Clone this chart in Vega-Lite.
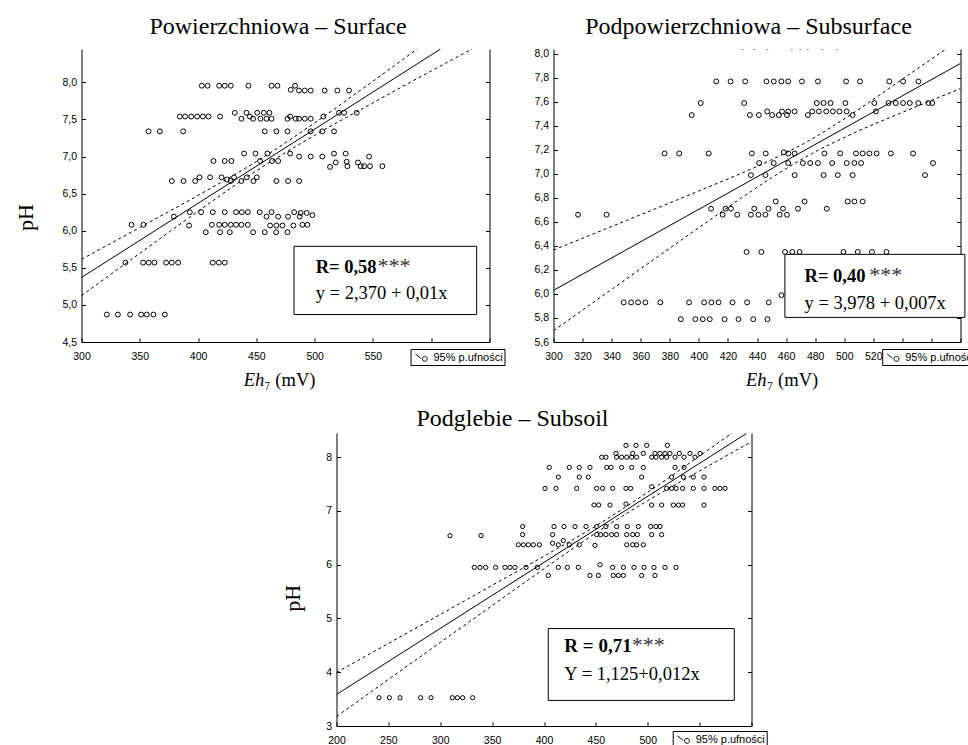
{
"$schema": "https://vega.github.io/schema/vega-lite/v6.json",
"background": "white",
"padding": {"left": 13.5, "top": 14, "right": 0, "bottom": 0},
"config": {
 "view": {"stroke": null},
 "axis": {"grid": false, "domainColor": "black", "domainWidth": 1, "tickColor": "black", "tickWidth": 1, "labelColor": "black", "labelFont": "Liberation Sans", "labelFontSize": 10.5, "titleColor": "black", "titleFont": "Liberation Serif", "titleFontWeight": "normal"},
 "title": {"font": "Liberation Serif", "fontSize": 24, "fontWeight": "normal", "color": "black", "anchor": "middle", "baseline": "alphabetic"},
 "legend": {"title": null, "symbolSize": 170, "symbolOffset": 3, "symbolStrokeWidth": 1, "symbolStrokeColor": "black", "symbolFillColor": "transparent", "labelFont": "Liberation Sans", "labelFontSize": 11, "labelColor": "black", "labelOffset": 4, "padding": 1, "strokeColor": "black", "fillColor": "white", "cornerRadius": 0, "zindex": 1, "symbolType": "M-1,-0.55L-0.2,0.1M0.8,0.2A0.38,0.38 0 1,1 0.04,0.2A0.38,0.38 0 1,1 0.8,0.2"}
},
"datasets": {
 "surface": [
{"x":321.7,"ph":4.87},{"x":331.2,"ph":4.87},{"x":341.7,"ph":4.87},{"x":351.2,"ph":4.87},{"x":356,"ph":4.87},{"x":361.7,"ph":4.87},{"x":371.5,"ph":4.87},
{"x":337.7,"ph":5.57},{"x":352.9,"ph":5.57},{"x":357.7,"ph":5.57},{"x":362.6,"ph":5.57},{"x":372.6,"ph":5.57},{"x":377.5,"ph":5.57},{"x":382.9,"ph":5.57},{"x":412.6,"ph":5.57},{"x":417.8,"ph":5.57},{"x":422.9,"ph":5.57},
{"x":406.6,"ph":5.98},{"x":418.9,"ph":5.98},{"x":427.2,"ph":5.98},{"x":447.2,"ph":5.98},{"x":457.2,"ph":5.98},{"x":467,"ph":5.98},{"x":476.7,"ph":5.98},
{"x":342.9,"ph":6.08},{"x":353.2,"ph":6.08},{"x":392.3,"ph":6.07},{"x":411.8,"ph":6.08},{"x":418.1,"ph":6.08},{"x":422.9,"ph":6.08},{"x":428.1,"ph":6.08},{"x":432.6,"ph":6.08},{"x":437.2,"ph":6.08},{"x":442.7,"ph":6.08},{"x":461.8,"ph":6.07},{"x":467.2,"ph":6.07},{"x":472.4,"ph":6.07},{"x":481.8,"ph":6.07},{"x":489.5,"ph":6.08},{"x":493.8,"ph":6.08},
{"x":379.2,"ph":6.19},{"x":458.7,"ph":6.19},{"x":468.7,"ph":6.19},{"x":477.2,"ph":6.19},{"x":487.2,"ph":6.19},
{"x":392.9,"ph":6.25},{"x":402.6,"ph":6.25},{"x":412.6,"ph":6.25},{"x":422.9,"ph":6.25},{"x":432.6,"ph":6.25},{"x":437.5,"ph":6.25},{"x":442.7,"ph":6.25},{"x":452.9,"ph":6.25},{"x":463,"ph":6.25},{"x":482.4,"ph":6.25},{"x":488,"ph":6.24},{"x":493.2,"ph":6.24},{"x":498.1,"ph":6.21},
{"x":377.5,"ph":6.67},{"x":387.5,"ph":6.67},{"x":397.5,"ph":6.67},{"x":428.1,"ph":6.67},{"x":437.2,"ph":6.67},{"x":447.5,"ph":6.67},{"x":467.2,"ph":6.67},{"x":477.2,"ph":6.67},{"x":486.7,"ph":6.67},
{"x":401.2,"ph":6.72},{"x":410.3,"ph":6.72},{"x":420.1,"ph":6.72},{"x":424.6,"ph":6.69},{"x":430.9,"ph":6.72},{"x":441.8,"ph":6.72},{"x":450.4,"ph":6.72},
{"x":413.2,"ph":6.94},{"x":422.9,"ph":6.94},{"x":428.6,"ph":6.94},{"x":453.2,"ph":6.94},{"x":463.5,"ph":6.94},{"x":468.7,"ph":6.94},
{"x":439.5,"ph":7.04},{"x":449.2,"ph":7.04},{"x":459.5,"ph":7.04},{"x":479,"ph":7.04},{"x":516.6,"ph":7.04},{"x":526.6,"ph":7.04},
{"x":486.7,"ph":7.0},{"x":496.6,"ph":7.0},{"x":506.6,"ph":7.0},{"x":546.7,"ph":7.0},
{"x":518.1,"ph":6.92},{"x":537.2,"ph":6.92},{"x":527.5,"ph":6.93},{"x":513.2,"ph":6.86},{"x":528.1,"ph":6.87},{"x":539.5,"ph":6.87},{"x":542.4,"ph":6.87},{"x":547.5,"ph":6.87},{"x":558.1,"ph":6.87},
{"x":357.5,"ph":7.34},{"x":367.2,"ph":7.34},{"x":387.2,"ph":7.34},{"x":457.2,"ph":7.34},{"x":467.2,"ph":7.34},{"x":476.7,"ph":7.34},{"x":496.6,"ph":7.34},{"x":506.6,"ph":7.34},{"x":516.6,"ph":7.34},
{"x":384.3,"ph":7.54},{"x":388.9,"ph":7.54},{"x":394.1,"ph":7.54},{"x":399.2,"ph":7.54},{"x":404.1,"ph":7.54},{"x":408.9,"ph":7.54},{"x":418.9,"ph":7.54},{"x":444.4,"ph":7.54},{"x":479,"ph":7.54},{"x":507.5,"ph":7.54},
{"x":431.5,"ph":7.59},{"x":441.5,"ph":7.59},{"x":450.7,"ph":7.59},{"x":456.4,"ph":7.59},{"x":461.2,"ph":7.59},{"x":520.9,"ph":7.59},{"x":525.2,"ph":7.59},{"x":536.1,"ph":7.59},
{"x":437.2,"ph":7.51},{"x":447.2,"ph":7.51},{"x":453.5,"ph":7.51},{"x":458.7,"ph":7.51},{"x":463,"ph":7.51},{"x":476.7,"ph":7.51},{"x":483.8,"ph":7.51},{"x":486.6,"ph":7.51},{"x":491.5,"ph":7.51},{"x":496.6,"ph":7.51},
{"x":403.2,"ph":7.955},{"x":408.1,"ph":7.955},{"x":418.1,"ph":7.955},{"x":422.9,"ph":7.955},{"x":428.1,"ph":7.955},{"x":443.2,"ph":7.955},{"x":463,"ph":7.955},{"x":468.1,"ph":7.955},{"x":483.2,"ph":7.955},{"x":479.5,"ph":7.9},
{"x":486.6,"ph":7.89},{"x":491.5,"ph":7.89},{"x":496.6,"ph":7.89},{"x":508.6,"ph":7.89},{"x":519.5,"ph":7.89},{"x":529.5,"ph":7.89}
 ],
 "subsurface": [
{"x":316.9,"ph":6.66},{"x":336.5,"ph":6.66},
{"x":376.4,"ph":7.17},{"x":386.5,"ph":7.17},{"x":406.8,"ph":7.17},{"x":436.5,"ph":7.17},{"x":446,"ph":7.17},{"x":458.4,"ph":7.18},{"x":461.5,"ph":7.17},{"x":465.9,"ph":7.17},{"x":486.4,"ph":7.17},{"x":497.2,"ph":7.17},{"x":508.1,"ph":7.17},{"x":512.7,"ph":7.17},{"x":517.3,"ph":7.17},{"x":522.3,"ph":7.17},{"x":532.1,"ph":7.17},{"x":547.4,"ph":7.17},
{"x":395.1,"ph":7.49},{"x":435.1,"ph":7.49},{"x":441.3,"ph":7.49},{"x":450.4,"ph":7.49},{"x":455,"ph":7.49},{"x":460.6,"ph":7.49},{"x":475,"ph":7.49},{"x":505.8,"ph":7.49},
{"x":447,"ph":7.52},{"x":457.2,"ph":7.52},{"x":461.5,"ph":7.52},{"x":465.9,"ph":7.52},{"x":478,"ph":7.52},{"x":482.6,"ph":7.52},{"x":487.6,"ph":7.52},{"x":492.2,"ph":7.52},{"x":496.7,"ph":7.52},{"x":501.7,"ph":7.52},{"x":521.8,"ph":7.52},
{"x":401.3,"ph":7.59},{"x":431.2,"ph":7.59},{"x":481.2,"ph":7.59},{"x":485.8,"ph":7.59},{"x":490.6,"ph":7.59},{"x":500.8,"ph":7.59},{"x":520.7,"ph":7.59},{"x":530.5,"ph":7.59},{"x":535.5,"ph":7.59},{"x":540.5,"ph":7.59},{"x":545.1,"ph":7.59},{"x":551,"ph":7.59},{"x":557.9,"ph":7.59},{"x":560.6,"ph":7.59},
{"x":412,"ph":7.77},{"x":421.8,"ph":7.77},{"x":431.9,"ph":7.77},{"x":446.5,"ph":7.77},{"x":451.5,"ph":7.77},{"x":456.8,"ph":7.77},{"x":461.5,"ph":7.77},{"x":470.9,"ph":7.77},{"x":481.9,"ph":7.77},{"x":501.3,"ph":7.77},{"x":510.9,"ph":7.77},{"x":531,"ph":7.77},{"x":540.5,"ph":7.77},{"x":551,"ph":7.77},
{"x":441.5,"ph":7.09},{"x":451.5,"ph":7.09},{"x":461.5,"ph":7.09},{"x":471.6,"ph":7.09},{"x":476.6,"ph":7.09},{"x":481.9,"ph":7.09},{"x":491.7,"ph":7.09},{"x":501.7,"ph":7.09},{"x":507,"ph":7.09},{"x":511.6,"ph":7.09},{"x":561.1,"ph":7.09},
{"x":435.8,"ph":6.99},{"x":445.8,"ph":6.99},{"x":465.9,"ph":6.99},{"x":485.8,"ph":6.99},{"x":495.6,"ph":6.99},{"x":505.8,"ph":6.99},{"x":555.6,"ph":6.99},
{"x":452.9,"ph":6.77},{"x":472.7,"ph":6.77},{"x":502.4,"ph":6.77},{"x":507,"ph":6.77},{"x":512.7,"ph":6.77},
{"x":408.4,"ph":6.71},{"x":418.4,"ph":6.71},{"x":422.1,"ph":6.71},{"x":438.1,"ph":6.71},{"x":447.9,"ph":6.71},{"x":457.9,"ph":6.71},{"x":468.2,"ph":6.71},{"x":488,"ph":6.71},
{"x":416.4,"ph":6.66},{"x":426.4,"ph":6.66},{"x":435.8,"ph":6.66},{"x":441,"ph":6.66},{"x":445.8,"ph":6.66},{"x":455.6,"ph":6.66},{"x":460.6,"ph":6.66},
{"x":432.8,"ph":6.35},{"x":443,"ph":6.35},{"x":459.3,"ph":6.35},{"x":464.3,"ph":6.35},{"x":469.3,"ph":6.35},{"x":499.5,"ph":6.35},{"x":509.3,"ph":6.35},{"x":519.1,"ph":6.35},{"x":529.1,"ph":6.35},
{"x":456.8,"ph":5.99},
{"x":348.3,"ph":5.93},{"x":353.4,"ph":5.93},{"x":358.2,"ph":5.93},{"x":363.2,"ph":5.93},{"x":373.5,"ph":5.93},{"x":393.3,"ph":5.93},{"x":403.6,"ph":5.93},{"x":408.6,"ph":5.93},{"x":413.6,"ph":5.93},{"x":423.2,"ph":5.93},{"x":433.2,"ph":5.93},{"x":448.1,"ph":5.93},
{"x":387.6,"ph":5.79},{"x":397.6,"ph":5.79},{"x":402.7,"ph":5.79},{"x":407.5,"ph":5.79},{"x":417.7,"ph":5.79},{"x":427.3,"ph":5.79},{"x":437.4,"ph":5.79},{"x":447.2,"ph":5.79},
{"x":430,"ph":8.06},{"x":438,"ph":8.06},{"x":447,"ph":8.06},{"x":464,"ph":8.06},{"x":470,"ph":8.06},{"x":475,"ph":8.06},{"x":485,"ph":8.06},{"x":495,"ph":8.06}
 ],
 "subsoil": [
{"x":241,"ph":3.526},{"x":250.9,"ph":3.526},{"x":261.2,"ph":3.526},{"x":281.1,"ph":3.526},{"x":291.1,"ph":3.526},{"x":311.6,"ph":3.526},{"x":316.5,"ph":3.526},{"x":321.6,"ph":3.526},{"x":331.2,"ph":3.526},
{"x":309.4,"ph":6.54},{"x":339.3,"ph":6.54},
{"x":332.8,"ph":5.95},{"x":338.3,"ph":5.95},{"x":343.8,"ph":5.95},{"x":353.4,"ph":5.95},
{"x":479,"ph":8.22},{"x":488.7,"ph":8.22},{"x":499,"ph":8.22},{"x":518.9,"ph":8.22},
{"x":469.4,"ph":8.07},{"x":485.5,"ph":8.07},{"x":495.7,"ph":8.07},{"x":507,"ph":8.07},{"x":511.8,"ph":8.07},{"x":516.6,"ph":8.07},{"x":521.4,"ph":8.07},{"x":530.4,"ph":8.07},{"x":540.7,"ph":8.07},{"x":550.4,"ph":8.07},
{"x":455.6,"ph":8.0},{"x":459.7,"ph":8.0},{"x":470,"ph":8.0},{"x":474.8,"ph":8.0},{"x":479.7,"ph":8.0},{"x":484.5,"ph":8.0},{"x":489.3,"ph":8.0},{"x":503.8,"ph":8.0},{"x":507.9,"ph":8.0},{"x":513.4,"ph":8.0},{"x":518.2,"ph":8.0},{"x":526.3,"ph":8.0},{"x":535,"ph":8.0},{"x":545.5,"ph":8.0},
{"x":405.1,"ph":7.81},{"x":424.4,"ph":7.81},{"x":434,"ph":7.81},{"x":444.3,"ph":7.81},{"x":460.4,"ph":7.81},{"x":464.6,"ph":7.81},{"x":474.8,"ph":7.81},{"x":484.5,"ph":7.81},{"x":495.7,"ph":7.81},{"x":526.3,"ph":7.81},{"x":535,"ph":7.81},
{"x":413.8,"ph":7.63},{"x":434,"ph":7.63},{"x":442.7,"ph":7.63},{"x":494.1,"ph":7.63},{"x":523,"ph":7.63},{"x":534.3,"ph":7.63},{"x":543.9,"ph":7.63},{"x":554.2,"ph":7.63},
{"x":401,"ph":7.42},{"x":411.6,"ph":7.42},{"x":431.5,"ph":7.42},{"x":450.8,"ph":7.42},{"x":456.5,"ph":7.42},{"x":466.2,"ph":7.42},{"x":479,"ph":7.42},{"x":483.5,"ph":7.42},{"x":503.8,"ph":7.45},{"x":518.2,"ph":7.42},{"x":523,"ph":7.42},{"x":527.2,"ph":7.42},{"x":533.6,"ph":7.42},{"x":543.9,"ph":7.42},{"x":554.2,"ph":7.42},{"x":564.8,"ph":7.42},{"x":569.6,"ph":7.42},{"x":574.4,"ph":7.42},
{"x":448.2,"ph":7.11},{"x":452.7,"ph":7.11},{"x":463.6,"ph":7.11},{"x":479,"ph":7.13},{"x":503.8,"ph":7.11},{"x":513.4,"ph":7.11},{"x":524.6,"ph":7.11},{"x":529.5,"ph":7.11},{"x":533.6,"ph":7.11},{"x":554.2,"ph":7.11},
{"x":379.4,"ph":6.71},{"x":409.6,"ph":6.71},{"x":419.3,"ph":6.71},{"x":429.9,"ph":6.71},{"x":440.5,"ph":6.71},{"x":450.8,"ph":6.71},{"x":459.7,"ph":6.71},{"x":470,"ph":6.71},{"x":480.3,"ph":6.71},{"x":490.9,"ph":6.71},{"x":502.8,"ph":6.71},{"x":507.9,"ph":6.71},{"x":511.8,"ph":6.71},
{"x":379.4,"ph":6.56},{"x":408.3,"ph":6.56},{"x":450.8,"ph":6.56},{"x":454.6,"ph":6.56},{"x":459.7,"ph":6.56},{"x":465.2,"ph":6.56},{"x":470,"ph":6.56},{"x":479.7,"ph":6.56},{"x":485.5,"ph":6.56},{"x":490,"ph":6.56},{"x":503.8,"ph":6.56},{"x":513.4,"ph":6.56},
{"x":375.2,"ph":6.37},{"x":380.1,"ph":6.37},{"x":384.9,"ph":6.37},{"x":389.7,"ph":6.37},{"x":395.5,"ph":6.37},{"x":408.3,"ph":6.4},{"x":413.8,"ph":6.37},{"x":418.6,"ph":6.45},{"x":424.4,"ph":6.37},{"x":434,"ph":6.37},{"x":449.1,"ph":6.36},{"x":479.7,"ph":6.37},{"x":485.5,"ph":6.37},{"x":489.3,"ph":6.37},{"x":495.7,"ph":6.37},
{"x":362.4,"ph":5.95},{"x":367.2,"ph":5.95},{"x":372,"ph":5.95},{"x":382.6,"ph":5.95},{"x":393.6,"ph":5.95},{"x":413.8,"ph":5.95},{"x":422.5,"ph":5.95},{"x":433.1,"ph":5.95},{"x":454,"ph":6.0},{"x":466.2,"ph":5.95},{"x":476.5,"ph":5.95},{"x":486.7,"ph":5.95},{"x":496.4,"ph":5.95},{"x":506,"ph":5.95},{"x":516.6,"ph":5.95},{"x":527.2,"ph":5.95},
{"x":404.2,"ph":5.8},{"x":444.3,"ph":5.8},{"x":452.4,"ph":5.8},{"x":466.8,"ph":5.8},{"x":471.6,"ph":5.8},{"x":476.5,"ph":5.8},{"x":494.1,"ph":5.8},{"x":507,"ph":5.8}
 ],
 "fit": [
{"panel":"surface","x":300,"y":5.37},{"panel":"surface","x":608,"y":8.45},
{"panel":"subsurface","x":300,"y":6.03},{"panel":"subsurface","x":580,"y":7.92},
{"panel":"subsoil","x":200,"y":3.586},{"panel":"subsoil","x":595,"y":8.44}
 ],
 "ci": [
{"panel":"surface","band":"upper","x":300,"y":5.615},{"panel":"surface","band":"upper","x":350,"y":6.044},{"panel":"surface","band":"upper","x":400,"y":6.477},{"panel":"surface","band":"upper","x":450,"y":6.932},{"panel":"surface","band":"upper","x":500,"y":7.454},{"panel":"surface","band":"upper","x":550,"y":8.016},{"panel":"surface","band":"upper","x":588,"y":8.45},
{"panel":"surface","band":"lower","x":300,"y":5.125},{"panel":"surface","band":"lower","x":350,"y":5.696},{"panel":"surface","band":"lower","x":400,"y":6.263},{"panel":"surface","band":"lower","x":450,"y":6.808},{"panel":"surface","band":"lower","x":500,"y":7.286},{"panel":"surface","band":"lower","x":550,"y":7.724},{"panel":"surface","band":"lower","x":600,"y":8.154},{"panel":"surface","band":"lower","x":635,"y":8.45},
{"panel":"subsurface","band":"upper","x":300,"y":6.366},{"panel":"subsurface","band":"upper","x":350,"y":6.611},{"panel":"subsurface","band":"upper","x":400,"y":6.858},{"panel":"subsurface","band":"upper","x":450,"y":7.118},{"panel":"subsurface","band":"upper","x":475,"y":7.271},{"panel":"subsurface","band":"upper","x":500,"y":7.458},{"panel":"subsurface","band":"upper","x":550,"y":7.873},{"panel":"subsurface","band":"upper","x":570,"y":8.04},
{"panel":"subsurface","band":"lower","x":300,"y":5.694},{"panel":"subsurface","band":"lower","x":350,"y":6.124},{"panel":"subsurface","band":"lower","x":400,"y":6.552},{"panel":"subsurface","band":"lower","x":450,"y":6.967},{"panel":"subsurface","band":"lower","x":475,"y":7.151},{"panel":"subsurface","band":"lower","x":500,"y":7.303},{"panel":"subsurface","band":"lower","x":550,"y":7.562},{"panel":"subsurface","band":"lower","x":580,"y":7.71},
{"panel":"subsoil","band":"upper","x":200,"y":3.996},{"panel":"subsoil","band":"upper","x":250,"y":4.535},{"panel":"subsoil","band":"upper","x":300,"y":5.075},{"panel":"subsoil","band":"upper","x":350,"y":5.616},{"panel":"subsoil","band":"upper","x":400,"y":6.16},{"panel":"subsoil","band":"upper","x":450,"y":6.722},{"panel":"subsoil","band":"upper","x":500,"y":7.348},{"panel":"subsoil","band":"upper","x":550,"y":8.023},{"panel":"subsoil","band":"upper","x":581,"y":8.445},
{"panel":"subsoil","band":"lower","x":200,"y":3.176},{"panel":"subsoil","band":"lower","x":250,"y":3.865},{"panel":"subsoil","band":"lower","x":300,"y":4.553},{"panel":"subsoil","band":"lower","x":350,"y":5.24},{"panel":"subsoil","band":"lower","x":400,"y":5.924},{"panel":"subsoil","band":"lower","x":450,"y":6.591},{"panel":"subsoil","band":"lower","x":500,"y":7.192},{"panel":"subsoil","band":"lower","x":550,"y":7.745},{"panel":"subsoil","band":"lower","x":600,"y":8.288}
 ],
 "boxes": [
{"panel":"surface","x":482.3,"x2":639,"y":4.87,"y2":5.79},
{"panel":"subsurface","x":459.2,"x2":583,"y":5.805,"y2":6.33},
{"panel":"subsoil","x":404.1,"x2":583.4,"y":3.476,"y2":4.812}
 ],
 "notes": [
{"panel":"surface","kind":"R","x":500.9,"y":5.43,"text":"R= 0,58"},
{"panel":"surface","kind":"stars","x":553.9,"y":5.43,"text":"***"},
{"panel":"surface","kind":"eq","x":500.9,"y":5.08,"text":"y = 2,370 + 0,01x"},
{"panel":"subsurface","kind":"R","x":472.7,"y":6.099,"text":"R= 0,40"},
{"panel":"subsurface","kind":"stars","x":517.3,"y":6.099,"text":"***"},
{"panel":"subsurface","kind":"eq","x":472.7,"y":5.877,"text":"y = 3,978 + 0,007x"},
{"panel":"subsoil","kind":"R","x":419.6,"y":4.379,"text":"R = 0,71"},
{"panel":"subsoil","kind":"stars","x":484.5,"y":4.379,"text":"***"},
{"panel":"subsoil","kind":"eq","x":419.6,"y":3.853,"text":"Y = 1,125+0,012x"}
 ],
 "spacer": [{"a":0},{"a":1}]
},
"spacing": 18,
"resolve": {"scale": {"color": "independent"}, "legend": {"color": "independent"}},
"vconcat": [
{
"spacing": 28,
"resolve": {"scale": {"color": "independent"}, "legend": {"color": "independent"}},
"hconcat": [
{
 "width": 408, "height": 293,
 "title": {"text": "Powierzchniowa – Surface", "dx": -7.5, "offset": 10},
 "layer": [
  {"data": {"name": "surface"},
   "mark": {"type": "point", "shape": "circle", "filled": false, "size": 24, "strokeWidth": 1, "color": "black", "opacity": 1, "clip": true},
   "encoding": {
    "x": {"field": "x", "type": "quantitative", "scale": {"domain": [300, 650], "nice": false, "zero": false},
      "axis": {"orient": "bottom", "values": [300,350,400,450,500,550,600,650], "format": "d", "tickSize": -4, "labelPadding": 13, "labelFlush": false, "labelOverlap": false, "title": "Eh", "titleFontStyle": "italic", "titleFontSize": 18.5, "titleAlign": "left", "titleBaseline": "alphabetic", "titleX": 161.7, "titleY": 43, "titleAngle": 0}},
    "y": {"field": "ph", "type": "quantitative", "scale": {"domain": [4.5, 8.45], "nice": false, "zero": false},
      "axis": {"orient": "left", "values": [4.5,5,5.5,6,6.5,7,7.5,8], "labelExpr": "replace(format(datum.value, '.1f'), '.', ',')", "tickSize": -4, "labelPadding": 9, "labelFlush": false, "labelOverlap": false, "title": "pH", "titleFontSize": 22, "titleAngle": 270, "titleAlign": "center", "titleBaseline": "middle", "titleX": -56.5, "titleY": 168}}
   }},
  {"data": {"name": "ci"}, "transform": [{"filter": "datum.panel === 'surface'"}],
   "mark": {"type": "line", "color": "black", "strokeWidth": 1, "strokeDash": [3, 3], "interpolate": "monotone", "clip": true},
   "encoding": {"x": {"field": "x", "type": "quantitative", "axis": null}, "y": {"field": "y", "type": "quantitative", "axis": null}, "detail": {"field": "band"}}},
  {"data": {"name": "fit"}, "transform": [{"filter": "datum.panel === 'surface'"}],
   "mark": {"type": "line", "strokeWidth": 1, "clip": true},
   "encoding": {
    "x": {"field": "x", "type": "quantitative", "axis": {"orient": "bottom", "domain": false, "ticks": false, "labels": false, "title": "₇ (mV)", "titleFontSize": 18.5, "titleAlign": "left", "titleBaseline": "alphabetic", "titleX": 182.3, "titleY": 43, "titleAngle": 0}},
    "y": {"field": "y", "type": "quantitative", "axis": {"orient": "right", "values": [4.5,5,5.5,6,6.5,7,7.5,8], "labels": false, "tickSize": -4, "title": null}},
    "color": {"datum": "95% p.ufności", "scale": {"range": ["black"]}, "legend": {"orient": "none", "legendX": 329, "legendY": 300}}
   }},
  {"data": {"name": "boxes"}, "transform": [{"filter": "datum.panel === 'surface'"}],
   "mark": {"type": "rect", "fill": "white", "stroke": "black", "strokeWidth": 1},
   "encoding": {"x": {"field": "x", "type": "quantitative", "axis": null}, "x2": {"field": "x2"}, "y": {"field": "y", "type": "quantitative", "axis": null}, "y2": {"field": "y2"}}},
  {"data": {"name": "notes"}, "transform": [{"filter": "datum.panel === 'surface' && datum.kind === 'R'"}],
   "mark": {"type": "text", "align": "left", "baseline": "alphabetic", "font": "Liberation Serif", "fontSize": 18.5, "fontWeight": "bold", "color": "black"},
   "encoding": {"x": {"field": "x", "type": "quantitative", "axis": null}, "y": {"field": "y", "type": "quantitative", "axis": null}, "text": {"field": "text"}}},
  {"data": {"name": "notes"}, "transform": [{"filter": "datum.panel === 'surface' && datum.kind === 'stars'"}],
   "mark": {"type": "text", "align": "left", "baseline": "alphabetic", "font": "Liberation Serif", "fontSize": 22, "fontWeight": "normal", "color": "#333333"},
   "encoding": {"x": {"field": "x", "type": "quantitative", "axis": null}, "y": {"field": "y", "type": "quantitative", "axis": null}, "text": {"field": "text"}}},
  {"data": {"name": "notes"}, "transform": [{"filter": "datum.panel === 'surface' && datum.kind === 'eq'"}],
   "mark": {"type": "text", "align": "left", "baseline": "alphabetic", "font": "Liberation Serif", "fontSize": 18.5, "fontWeight": "normal", "color": "black"},
   "encoding": {"x": {"field": "x", "type": "quantitative", "axis": null}, "y": {"field": "y", "type": "quantitative", "axis": null}, "text": {"field": "text"}}}
 ],
 "resolve": {"axis": {"x": "independent", "y": "independent"}}
},
{
 "width": 407, "height": 293,
 "title": {"text": "Podpowierzchniowa – Subsurface", "dx": -8.5, "offset": 10},
 "layer": [
  {"data": {"name": "subsurface"},
   "mark": {"type": "point", "shape": "circle", "filled": false, "size": 24, "strokeWidth": 1, "color": "black", "opacity": 1, "clip": true},
   "encoding": {
    "x": {"field": "x", "type": "quantitative", "scale": {"domain": [300, 580], "nice": false, "zero": false},
      "axis": {"orient": "bottom", "values": [300,320,340,360,380,400,420,440,460,480,500,520,540,560,580], "format": "d", "tickSize": -4, "labelPadding": 13, "labelFlush": false, "labelOverlap": false, "title": "Eh", "titleFontStyle": "italic", "titleFontSize": 18.5, "titleAlign": "left", "titleBaseline": "alphabetic", "titleX": 192, "titleY": 43, "titleAngle": 0}},
    "y": {"field": "ph", "type": "quantitative", "scale": {"domain": [5.6, 8.04], "nice": false, "zero": false},
      "axis": {"orient": "left", "values": [5.6,5.8,6,6.2,6.4,6.6,6.8,7,7.2,7.4,7.6,7.8,8], "labelExpr": "replace(format(datum.value, '.1f'), '.', ',')", "tickSize": -4, "labelPadding": 9, "labelFlush": false, "labelOverlap": false, "title": null}}
   }},
  {"data": {"name": "ci"}, "transform": [{"filter": "datum.panel === 'subsurface'"}],
   "mark": {"type": "line", "color": "black", "strokeWidth": 1, "strokeDash": [3, 3], "interpolate": "monotone", "clip": true},
   "encoding": {"x": {"field": "x", "type": "quantitative", "axis": null}, "y": {"field": "y", "type": "quantitative", "axis": null}, "detail": {"field": "band"}}},
  {"data": {"name": "fit"}, "transform": [{"filter": "datum.panel === 'subsurface'"}],
   "mark": {"type": "line", "strokeWidth": 1, "clip": true},
   "encoding": {
    "x": {"field": "x", "type": "quantitative", "axis": {"orient": "bottom", "domain": false, "ticks": false, "labels": false, "title": "₇ (mV)", "titleFontSize": 18.5, "titleAlign": "left", "titleBaseline": "alphabetic", "titleX": 213, "titleY": 43, "titleAngle": 0}},
    "y": {"field": "y", "type": "quantitative", "axis": {"orient": "right", "values": [5.6,5.8,6,6.2,6.4,6.6,6.8,7,7.2,7.4,7.6,7.8,8], "labels": false, "tickSize": -4, "title": null}},
    "color": {"datum": "95% p.ufności", "scale": {"range": ["black"]}, "legend": {"orient": "none", "legendX": 328.7, "legendY": 300}}
   }},
  {"data": {"name": "boxes"}, "transform": [{"filter": "datum.panel === 'subsurface'"}],
   "mark": {"type": "rect", "fill": "white", "stroke": "black", "strokeWidth": 1},
   "encoding": {"x": {"field": "x", "type": "quantitative", "axis": null}, "x2": {"field": "x2"}, "y": {"field": "y", "type": "quantitative", "axis": null}, "y2": {"field": "y2"}}},
  {"data": {"name": "notes"}, "transform": [{"filter": "datum.panel === 'subsurface' && datum.kind === 'R'"}],
   "mark": {"type": "text", "align": "left", "baseline": "alphabetic", "font": "Liberation Serif", "fontSize": 18.5, "fontWeight": "bold", "color": "black"},
   "encoding": {"x": {"field": "x", "type": "quantitative", "axis": null}, "y": {"field": "y", "type": "quantitative", "axis": null}, "text": {"field": "text"}}},
  {"data": {"name": "notes"}, "transform": [{"filter": "datum.panel === 'subsurface' && datum.kind === 'stars'"}],
   "mark": {"type": "text", "align": "left", "baseline": "alphabetic", "font": "Liberation Serif", "fontSize": 22, "fontWeight": "normal", "color": "#333333"},
   "encoding": {"x": {"field": "x", "type": "quantitative", "axis": null}, "y": {"field": "y", "type": "quantitative", "axis": null}, "text": {"field": "text"}}},
  {"data": {"name": "notes"}, "transform": [{"filter": "datum.panel === 'subsurface' && datum.kind === 'eq'"}],
   "mark": {"type": "text", "align": "left", "baseline": "alphabetic", "font": "Liberation Serif", "fontSize": 18.5, "fontWeight": "normal", "color": "black"},
   "encoding": {"x": {"field": "x", "type": "quantitative", "axis": null}, "y": {"field": "y", "type": "quantitative", "axis": null}, "text": {"field": "text"}}}
 ],
 "resolve": {"axis": {"x": "independent", "y": "independent"}}
}
]
},
{
"spacing": 0,
"resolve": {"scale": {"color": "independent"}, "legend": {"color": "independent"}},
"hconcat": [
{
 "width": 198, "height": 1,
 "data": {"name": "spacer"},
 "mark": {"type": "point", "size": 1, "opacity": 0},
 "encoding": {"x": {"field": "a", "type": "quantitative", "axis": null, "scale": {"domain": [0, 1], "nice": false}}}
},
{
 "width": 415, "height": 293,
 "title": {"text": "Podglebie – Subsoil", "dx": -31.5, "offset": 2},
 "layer": [
  {"data": {"name": "subsoil"},
   "mark": {"type": "point", "shape": "circle", "filled": false, "size": 18, "strokeWidth": 1, "color": "black", "opacity": 1, "clip": true},
   "encoding": {
    "x": {"field": "x", "type": "quantitative", "scale": {"domain": [200, 600], "nice": false, "zero": false},
      "axis": {"orient": "bottom", "values": [200,250,300,350,400,450,500,550,600], "format": "d", "tickSize": -4, "labelPadding": 13, "labelFlush": false, "labelOverlap": false, "title": null}},
    "y": {"field": "ph", "type": "quantitative", "scale": {"domain": [3, 8.45], "nice": false, "zero": false},
      "axis": {"orient": "left", "values": [3,4,5,6,7,8], "format": "d", "tickSize": -4, "labelPadding": 9, "labelFlush": false, "labelOverlap": false, "title": "pH", "titleFontSize": 22, "titleAngle": 270, "titleAlign": "center", "titleBaseline": "middle", "titleX": -44.5, "titleY": 164.7}}
   }},
  {"data": {"name": "ci"}, "transform": [{"filter": "datum.panel === 'subsoil'"}],
   "mark": {"type": "line", "color": "black", "strokeWidth": 1, "strokeDash": [3, 3], "interpolate": "monotone", "clip": true},
   "encoding": {"x": {"field": "x", "type": "quantitative", "axis": null}, "y": {"field": "y", "type": "quantitative", "axis": null}, "detail": {"field": "band"}}},
  {"data": {"name": "fit"}, "transform": [{"filter": "datum.panel === 'subsoil'"}],
   "mark": {"type": "line", "strokeWidth": 1, "clip": true},
   "encoding": {
    "x": {"field": "x", "type": "quantitative", "axis": null},
    "y": {"field": "y", "type": "quantitative", "axis": {"orient": "right", "values": [3,4,5,6,7,8], "labels": false, "tickSize": -4, "title": null}},
    "color": {"datum": "95% p.ufności", "scale": {"range": ["black"]}, "legend": {"orient": "none", "legendX": 336.2, "legendY": 298}}
   }},
  {"data": {"name": "boxes"}, "transform": [{"filter": "datum.panel === 'subsoil'"}],
   "mark": {"type": "rect", "fill": "white", "stroke": "black", "strokeWidth": 1},
   "encoding": {"x": {"field": "x", "type": "quantitative", "axis": null}, "x2": {"field": "x2"}, "y": {"field": "y", "type": "quantitative", "axis": null}, "y2": {"field": "y2"}}},
  {"data": {"name": "notes"}, "transform": [{"filter": "datum.panel === 'subsoil' && datum.kind === 'R'"}],
   "mark": {"type": "text", "align": "left", "baseline": "alphabetic", "font": "Liberation Serif", "fontSize": 19, "fontWeight": "bold", "color": "black"},
   "encoding": {"x": {"field": "x", "type": "quantitative", "axis": null}, "y": {"field": "y", "type": "quantitative", "axis": null}, "text": {"field": "text"}}},
  {"data": {"name": "notes"}, "transform": [{"filter": "datum.panel === 'subsoil' && datum.kind === 'stars'"}],
   "mark": {"type": "text", "align": "left", "baseline": "alphabetic", "font": "Liberation Serif", "fontSize": 22, "fontWeight": "normal", "color": "#333333"},
   "encoding": {"x": {"field": "x", "type": "quantitative", "axis": null}, "y": {"field": "y", "type": "quantitative", "axis": null}, "text": {"field": "text"}}},
  {"data": {"name": "notes"}, "transform": [{"filter": "datum.panel === 'subsoil' && datum.kind === 'eq'"}],
   "mark": {"type": "text", "align": "left", "baseline": "alphabetic", "font": "Liberation Serif", "fontSize": 18.5, "fontWeight": "normal", "color": "black"},
   "encoding": {"x": {"field": "x", "type": "quantitative", "axis": null}, "y": {"field": "y", "type": "quantitative", "axis": null}, "text": {"field": "text"}}}
 ],
 "resolve": {"axis": {"x": "independent", "y": "independent"}}
}
]
}
]
}
